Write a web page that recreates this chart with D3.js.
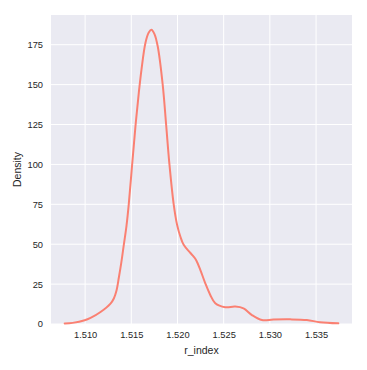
<!DOCTYPE html>
<html>
<head>
<meta charset="utf-8">
<script src="https://cdn.jsdelivr.net/npm/d3@7"></script>
<style>
  html, body { margin: 0; padding: 0; background: #ffffff; }
  svg { display: block; }
  text { font-family: "Liberation Sans", Arial, sans-serif; fill: #262626; }
</style>
</head>
<body>
<script>
// r_index values (x) and estimated KDE density (y)
const rIndex = [1.50779, 1.50865, 1.50995, 1.51059, 1.51167, 1.51275, 1.51311, 1.51340, 1.51365, 1.51391,
  1.51419, 1.51448, 1.51473, 1.51510, 1.51545, 1.51581, 1.51610, 1.51653, 1.51689, 1.51718,
  1.51750, 1.51786, 1.51840, 1.51877, 1.51913, 1.51959, 1.51996, 1.52031, 1.52067,
  1.52132, 1.52175, 1.52204, 1.52247, 1.52301, 1.52355, 1.52409, 1.52517, 1.52625, 1.52715,
  1.52806, 1.52914, 1.53039, 1.53219, 1.53400, 1.53543, 1.53741];
const density = [0.3, 0.7, 2.3, 3.8, 7.5, 12.8, 16.0, 21.0, 29.0, 38.1,
  49.6, 61.5, 75.3, 100.4, 123.8, 144.7, 159.3, 176.1, 182.6, 184.4,
  181.8, 174.0, 150.0, 125.0, 100.0, 75.0, 62.1, 54.8, 49.6,
  45.0, 42.2, 39.8, 33.9, 25.5, 18.2, 13.0, 10.5, 10.9, 9.8,
  5.6, 2.5, 2.8, 2.9, 2.5, 1.1, 0.4];
const xTicks = [1.510, 1.515, 1.520, 1.525, 1.530, 1.535];
const yTicks = [0, 25, 50, 75, 100, 125, 150, 175];
const xLabel = "r_index";
const yLabel = "Density";

const W = 367, H = 370;
const margin = { left: 51, right: 15, top: 15, bottom: 46 };
const pw = W - margin.left - margin.right;
const ph = H - margin.top - margin.bottom;

const svg = d3.select("body").append("svg").attr("width", W).attr("height", H);
const g = svg.append("g").attr("transform", `translate(${margin.left},${margin.top})`);

const xPad = (d3.max(rIndex) - d3.min(rIndex)) * 0.05;
const x = d3.scaleLinear().domain([d3.min(rIndex) - xPad, d3.max(rIndex) + xPad]).range([0, pw]);
const y = d3.scaleLinear().domain([0, d3.max(density) * 1.05]).range([ph, 0]);

g.append("rect").attr("width", pw).attr("height", ph).attr("fill", "#eaeaf2");

// gridlines
g.append("g").selectAll("line").data(xTicks).join("line")
  .attr("x1", d => x(d)).attr("x2", d => x(d)).attr("y1", 0).attr("y2", ph)
  .attr("stroke", "#ffffff").attr("stroke-width", 1);
g.append("g").selectAll("line").data(yTicks).join("line")
  .attr("y1", d => y(d)).attr("y2", d => y(d)).attr("x1", 0).attr("x2", pw)
  .attr("stroke", "#ffffff").attr("stroke-width", 1);

// axes (no tick marks, no domain)
const xAxis = g.append("g").attr("transform", `translate(0,${ph})`)
  .call(d3.axisBottom(x).tickValues(xTicks).tickFormat(d3.format(".3f")).tickSize(0).tickPadding(7));
const yAxis = g.append("g")
  .call(d3.axisLeft(y).tickValues(yTicks).tickFormat(d3.format("d")).tickSize(0).tickPadding(8));
[xAxis, yAxis].forEach(a => {
  a.select(".domain").remove();
  a.selectAll("text").attr("font-size", 9.3).attr("fill", "#262626")
    .attr("font-family", "'Liberation Sans', Arial, sans-serif");
});

// curve
const line = d3.line().x((d, i) => x(rIndex[i])).y(d => y(d)).curve(d3.curveCatmullRom.alpha(0.5));
g.append("path").datum(density).attr("d", line)
  .attr("fill", "none").attr("stroke", "#fa8072").attr("stroke-width", 2)
  .attr("stroke-linejoin", "round").attr("stroke-linecap", "round");

// labels
svg.append("text").attr("x", margin.left + pw / 2).attr("y", 354)
  .attr("text-anchor", "middle").attr("font-size", 10.5).text(xLabel);
svg.append("text").attr("transform", `translate(21,${margin.top + ph / 2}) rotate(-90)`)
  .attr("text-anchor", "middle").attr("font-size", 10.5).text(yLabel);
</script>
</body>
</html>
